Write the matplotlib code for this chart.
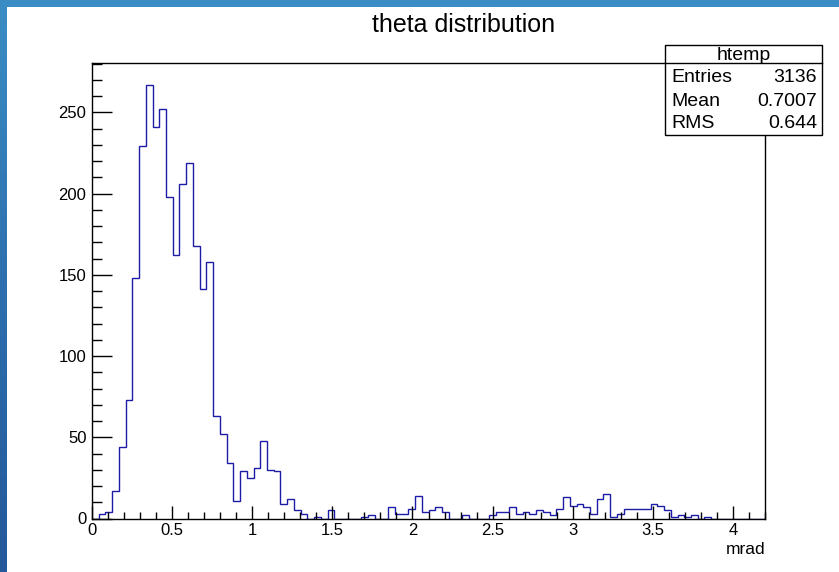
import numpy as np
import matplotlib
matplotlib.use("Agg")
import matplotlib.pyplot as plt
from matplotlib.ticker import MultipleLocator, FuncFormatter
from matplotlib.colors import LinearSegmentedColormap

# ---- data ----
x_min, x_max, n_bins = 0.0, 4.2, 100
counts = [
    0, 3, 4, 17, 44, 73, 148, 229, 267, 241,
    252, 198, 162, 206, 219, 168, 141, 158, 63, 52,
    34, 11, 29, 25, 31, 48, 30, 29, 9, 12,
    5, 3, 0, 1, 0, 5, 0, 0, 0, 0,
    1, 2, 0, 0, 7, 3, 3, 6, 14, 4,
    5, 7, 4, 0, 0, 2, 0, 0, 0, 2,
    4, 4, 7, 3, 4, 3, 5, 4, 2, 6,
    13, 8, 9, 7, 3, 12, 15, 1, 3, 6,
    6, 6, 6, 9, 8, 5, 1, 2, 1, 2,
    0, 1, 0, 0, 0, 0, 0, 0, 0, 0,
]
title = "theta distribution"
x_label = "mrad"
stats_name = "htemp"
stats_rows = [("Entries", "3136"), ("Mean", "0.7007"), ("RMS", "0.644")]

FONT = ["Liberation Sans", "DejaVu Sans"]
plt.rcParams["font.family"] = FONT

W, H = 839, 572
fig = plt.figure(figsize=(W / 100, H / 100), dpi=100, facecolor="white")

def fx(px):
    return px / W

def fy(py):
    return 1 - py / H

# blue frame (left and top strips)
bl = fig.add_axes([0, 0, fx(7), 1])
grad = np.linspace(0, 1, 256).reshape(-1, 1)
cm_l = LinearSegmentedColormap.from_list("l", ["#3a8dc4", "#2d6fae", "#24589a"])
bl.imshow(grad, aspect="auto", cmap=cm_l, extent=[0, 1, 0, 1], origin="upper")
bl.axis("off")
bt = fig.add_axes([0, fy(7), 1, 7 / H])
bt.add_patch(plt.Rectangle((0, 0), 1, 1, color="#3a8dc4", transform=bt.transAxes))
bt.axis("off")

# main axes
left, right, top, bottom = 92, 765, 63, 518.5
ax = fig.add_axes([fx(left), fy(bottom), fx(right - left), (bottom - top) / H])
edges = np.linspace(x_min, x_max, n_bins + 1)
ax.stairs(counts, edges, baseline=0, fill=False, color="#1c1ca8", linewidth=1.0)
ax.set_xlim(x_min, x_max)
ax.set_ylim(0, max(counts) * 1.05)

ax.xaxis.set_major_locator(MultipleLocator(0.5))
ax.xaxis.set_minor_locator(MultipleLocator(0.1))
ax.yaxis.set_major_locator(MultipleLocator(50))
ax.yaxis.set_minor_locator(MultipleLocator(10))
ax.xaxis.set_major_formatter(FuncFormatter(lambda v, p: "%g" % v))
ax.yaxis.set_major_formatter(FuncFormatter(lambda v, p: "%g" % v))
ax.tick_params(axis="x", which="major", direction="in", length=9.4, width=1, labelsize=12, pad=3)
ax.tick_params(axis="x", which="minor", direction="in", length=5, width=1)
ax.tick_params(axis="y", which="major", direction="in", length=14.4, width=1, labelsize=12, pad=4)
ax.tick_params(axis="y", which="minor", direction="in", length=7.2, width=1)
for s in ax.spines.values():
    s.set_linewidth(1)
    s.set_color("black")

fig.text(fx(765), fy(550), x_label, ha="right", va="center", fontsize=12.5)
fig.text(fx(464), fy(25), title, ha="center", va="center", fontsize=18)

# stats box
bx0, bx1, by0, by1, byh = 665, 822, 45, 135, 63
fig.add_artist(plt.Rectangle((fx(bx0), fy(by1)), fx(bx1 - bx0), (by1 - by0) / H,
                             transform=fig.transFigure, facecolor="white",
                             edgecolor="black", linewidth=1, zorder=5))
fig.add_artist(plt.Line2D([fx(bx0), fx(bx1)], [fy(byh), fy(byh)],
                          transform=fig.transFigure, color="black", linewidth=1, zorder=6))
fig.text(fx((bx0 + bx1) / 2), fy((by0 + byh) / 2 + 1), stats_name, ha="center", va="center",
         fontsize=14, zorder=7)
row_y = [78, 101, 124]
for (lab, val), yy in zip(stats_rows, row_y):
    fig.text(fx(bx0 + 6), fy(yy), lab, ha="left", va="center", fontsize=14, zorder=7)
    fig.text(fx(bx1 - 5), fy(yy), val, ha="right", va="center", fontsize=14, zorder=7)

fig.savefig("out.png", dpi=100, facecolor="white")
